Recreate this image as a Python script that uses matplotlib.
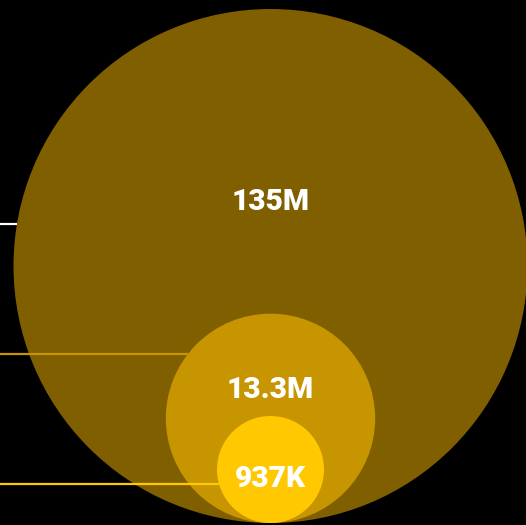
import numpy as np
import matplotlib.pyplot as plt
from matplotlib.patches import Circle

# Werte (groesster zuerst)
values = [135_000_000, 13_300_000, 937_000]
labels = ["135M", "13.3M", "937K"]
fill_colors = ["#7f5f00", "#c79500", "#ffc800"]
line_colors = ["#ffffff", "#c79500", "#ffc800"]

W, H = 526, 525
plt.rcParams['font.family'] = ['Roboto', 'DejaVu Sans']

fig = plt.figure(figsize=(W / 100, H / 100), dpi=100, facecolor="black")
ax = fig.add_axes([0, 0, 1, 1])
ax.set_xlim(0, W)
ax.set_ylim(H, 0)
ax.set_aspect("equal")
ax.axis("off")
ax.set_facecolor("black")

# sqrt-Skala fuer die Radien
r_min, r_max = 35, 257
vmax = max(values)
def radius(v):
    return r_min + (r_max - r_min) * np.sqrt(v / vmax)

cx, bottom = 270.5, 523
line_y0, line_step = 224, 130
label_shift = [-0.25, -0.27, 0.17]

for i, (v, lab, fc, lc) in enumerate(zip(values, labels, fill_colors, line_colors)):
    r = radius(v)
    cy = bottom - r
    ax.add_patch(Circle((cx, cy), r, facecolor=fc, edgecolor="none", zorder=1 + i))
    # Hinweislinie von links bis zum Kreisrand
    ly = line_y0 + i * line_step
    dx = np.sqrt(max(r ** 2 - (ly - cy) ** 2, 0))
    ax.plot([0, cx - dx], [ly, ly], color=lc, lw=1.6, zorder=10, solid_capstyle="butt")
    ax.text(cx, cy + label_shift[i] * r, lab, color="white", fontsize=21.5,
            fontweight="heavy", ha="center", va="center", zorder=20)

fig.savefig("out.png", dpi=100, facecolor="black")
